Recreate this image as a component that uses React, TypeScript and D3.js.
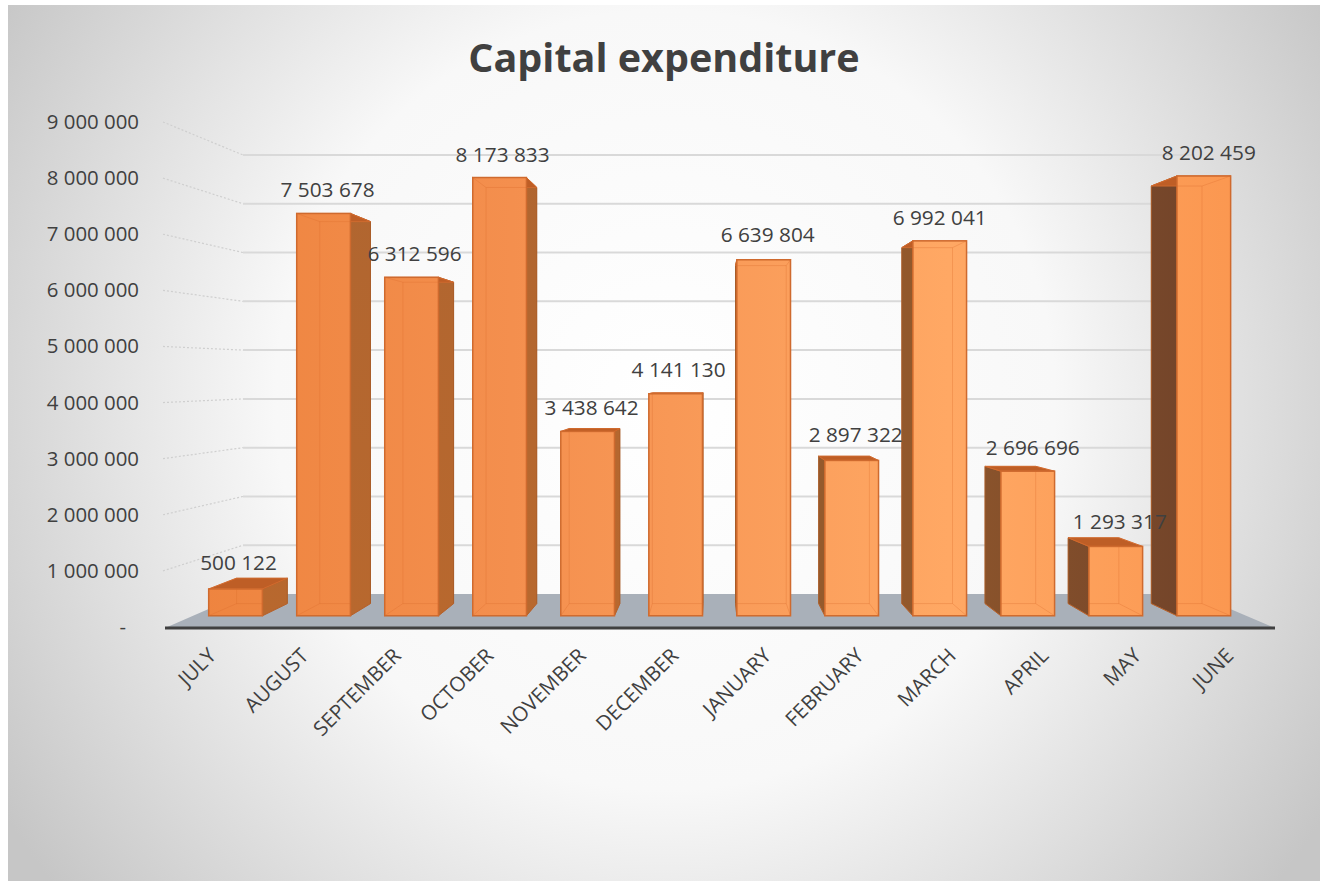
import React from "react";
import * as d3 from "d3";

// Monthly capital expenditure, financial year July to June
const months = ["JULY","AUGUST","SEPTEMBER","OCTOBER","NOVEMBER","DECEMBER","JANUARY","FEBRUARY","MARCH","APRIL","MAY","JUNE"];
const expenditure = [500122,7503678,6312596,8173833,3438642,4141130,6639804,2897322,6992041,2696696,1293317,8202459];
const valueTicks = [0,1e6,2e6,3e6,4e6,5e6,6e6,7e6,8e6,9e6];
const labelShiftX = [3,4,3,3,4,3,4,4,0,5,4,5];
const labelShiftY = [8,0,0,0,2,0,-2,2,0,5,7,0];

const W = 1320, H = 881;

// Pseudo-3D box: wall and floor edges at the near and far side of the plot
const frontY = d3.scaleLinear().domain([0, 9e6]).range([627, 122]);
const backY = d3.scaleLinear().domain([0, 9e6]).range([594, 155]);
const frontX = d3.scaleLinear().domain([0, 1]).range([165, 1275]);
const backX = d3.scaleLinear().domain([0, 1]).range([243, 1195]);

const NEAR = 0.34, FAR = 0.71, BAR_SHARE = 0.61;
const lerp = d3.interpolateNumber;
const px = (u: number, depth: number) => lerp(frontX(u), backX(u))(depth);
const py = (v: number, depth: number) => lerp(frontY(v), backY(v))(depth);
const pts = (list: [number, number][]) => list.map((p) => p.join(",")).join(" ");
const band = d3.scaleBand<number>().domain(d3.range(months.length)).range([0, 1]).paddingInner(1 - BAR_SHARE).paddingOuter((1 - BAR_SHARE) / 2);
const fmt = (v: number) => d3.format(",")(v).replace(/,/g, " ");
const sans = "'Open Sans', sans-serif";

function Bar({ i, v }: { i: number; v: number }) {
  const u0 = band(i)!, u1 = u0 + band.bandwidth();
  const fl = px(u0, NEAR), fr = px(u1, NEAR), bl = px(u0, FAR), br = px(u1, FAR);
  const fb = py(0, NEAR), bb = py(0, FAR), ft = py(v, NEAR), bt = py(v, FAR);
  const edge = "#CF6A2E";
  const centre = (fl + fr) / 2 < W / 2 + 60;
  return (
    <g>
      <polygon points={pts([[bl, bt], [br, bt], [br, bb], [bl, bb]])} fill="#D8752F" />
      {/* Side wall turned towards the viewer */}
      {centre ? (
        <polygon points={pts([[fr, ft], [br, bt], [br, bb], [fr, fb]])} fill="url(#sideRight)" stroke="#A85C28" strokeWidth={1} />
      ) : (
        <polygon points={pts([[fl, ft], [bl, bt], [bl, bb], [fl, fb]])} fill="url(#sideLeft)" stroke="#A85C28" strokeWidth={1} />
      )}
      <polygon points={pts([[fl, ft], [fr, ft], [br, bt], [bl, bt]])} fill="#BE5E26" stroke={edge} strokeWidth={1} />
      <rect x={fl} y={ft} width={fr - fl} height={fb - ft} fill="url(#frontFace)" stroke={edge} strokeWidth={1.5} />
      {/* Far edges showing through the translucent front */}
      <g stroke="#D9692B" strokeOpacity={0.3} strokeWidth={1} fill="none">
        <polyline points={pts([[Math.max(fl, bl), bb], [Math.min(fr, br), bb]])} />
        {bl > fl && bl < fr && <line x1={bl} x2={bl} y1={Math.max(bt, ft)} y2={bb} />}
        {br > fl && br < fr && <line x1={br} x2={br} y1={Math.max(bt, ft)} y2={bb} />}
        {bt > ft && <line x1={Math.max(fl, bl)} x2={Math.min(fr, br)} y1={bt} y2={bt} />}
        <line x1={fl} y1={ft} x2={bl} y2={bt} />
        <line x1={fr} y1={ft} x2={br} y2={bt} />
        <line x1={fl} y1={fb} x2={bl} y2={bb} />
        <line x1={fr} y1={fb} x2={br} y2={bb} />
      </g>
    </g>
  );
}

export default function App() {
  return (
    <svg width={W} height={H} viewBox={`0 0 ${W} ${H}`} style={{ position: "absolute", left: 0, top: 0, background: "#fff" }}>
      <defs>
        <radialGradient id="panel" gradientUnits="userSpaceOnUse" cx={665} cy={400} r={780}>
          <stop offset="0" stopColor="#ffffff" />
          <stop offset="0.5" stopColor="#f8f8f8" />
          <stop offset="1" stopColor="#c6c6c6" />
        </radialGradient>
        <linearGradient id="frontFace" gradientUnits="userSpaceOnUse" x1={200} x2={1240} y1={0} y2={0}>
          <stop offset="0" stopColor="#EE843F" />
          <stop offset="0.3" stopColor="#F48F4E" />
          <stop offset="0.72" stopColor="#FFA864" />
          <stop offset="1" stopColor="#FB9750" />
        </linearGradient>
        <linearGradient id="sideRight" gradientUnits="userSpaceOnUse" x1={0} x2={0} y1={100} y2={620}>
          <stop offset="0" stopColor="#AF6530" />
          <stop offset="1" stopColor="#B8682E" />
        </linearGradient>
        <linearGradient id="sideLeft" gradientUnits="userSpaceOnUse" x1={880} x2={1180} y1={0} y2={0}>
          <stop offset="0" stopColor="#955A2C" />
          <stop offset="1" stopColor="#74452A" />
        </linearGradient>
      </defs>

      <rect x={8} y={5} width={W - 8} height={H - 5} fill="url(#panel)" />
      <text x={664} y={72} textAnchor="middle" fontFamily={sans} fontWeight={700} fontSize={39.5} fill="#404040">Capital expenditure</text>

      {valueTicks.map((t) => (
        <g key={t}>
          {t > 0 && (
            <>
              <line x1={163} y1={frontY(t)} x2={243} y2={backY(t)} stroke="#cfcfcf" strokeWidth={1.2} strokeDasharray="2 2" />
              <line x1={243} y1={backY(t)} x2={1195} y2={backY(t)} stroke="#d9d9d9" strokeWidth={2} />
            </>
          )}
          <text x={t === 0 ? 126 : 139} y={frontY(t) + 7} textAnchor="end" fontFamily={sans} fontSize={20.4} fill="#404040">
            {t === 0 ? "-" : fmt(t)}
          </text>
        </g>
      ))}

      {/* Floor and category axis */}
      <polygon points={pts([[frontX(0), 628], [backX(0), 594], [backX(1), 594], [frontX(1), 628]])} fill="#A9B0B9" />
      <line x1={frontX(0)} x2={frontX(1)} y1={628} y2={628} stroke="#404040" strokeWidth={3} />

      {expenditure.map((v, i) => <Bar key={months[i]} i={i} v={v} />)}

      {expenditure.map((v, i) => {
        const cx = px(band(i)! + band.bandwidth() / 2, NEAR);
        return (
          <text key={months[i]} x={cx + labelShiftX[i]} y={Math.min(py(v, NEAR), py(v, FAR)) - 16 + labelShiftY[i]} textAnchor="middle" fontFamily={sans} fontSize={20.8} fill="#404040">
            {fmt(v)}
          </text>
        );
      })}

      {months.map((m, i) => {
        const x = frontX((i + 0.5) / months.length) + 6;
        return (
          <text key={m} transform={`translate(${x},657) rotate(-45)`} textAnchor="end" fontFamily={sans} fontSize={20.5} fill="#404040">{m}</text>
        );
      })}
    </svg>
  );
}
